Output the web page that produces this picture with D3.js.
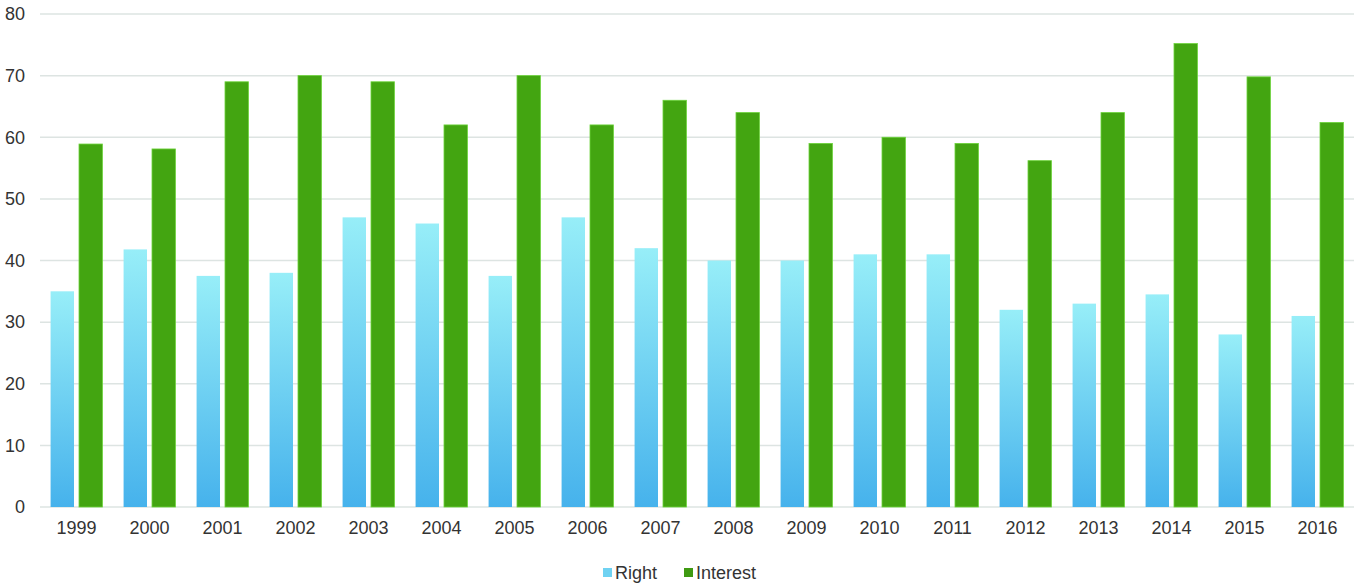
<!DOCTYPE html>
<html><head><meta charset="utf-8">
<script src="https://cdn.jsdelivr.net/npm/d3@7"></script>
<style>body{margin:0;background:#fff;} text{font-family:"Liberation Sans",Arial,sans-serif;}</style>
</head><body>
<svg id="c" width="1358" height="588"></svg>
<script>
const years = ["1999","2000","2001","2002","2003","2004","2005","2006","2007","2008","2009","2010","2011","2012","2013","2014","2015","2016"];
const rightValues = [35,41.8,37.5,38,47,46,37.5,47,42,40,40,41,41,32,33,34.5,28,31];
const interestValues = [58.9,58.1,69,70,69,62,70,62,66,64,59,60,59,56.2,64,75.2,69.8,62.4];
const seriesNames = ["Right","Interest"];
const yTicks = [0,10,20,30,40,50,60,70,80];

const svg = d3.select("#c");
const margin = {left:40, right:4, top:14, bottom:81};
const W = 1358, H = 588;
const x = d3.scaleBand().domain(years).range([margin.left, W - margin.right]).paddingInner(0.29).paddingOuter(0.145);
const x1 = d3.scaleBand().domain(seriesNames).range([0, x.bandwidth()]).paddingInner(0.176).paddingOuter(0);
const y = d3.scaleLinear().domain([0,80]).range([H - margin.bottom, margin.top]);

const defs = svg.append("defs");
const g1 = defs.append("linearGradient").attr("id","gr").attr("x1",0).attr("y1",0).attr("x2",0).attr("y2",1);
g1.append("stop").attr("offset","0%").attr("stop-color","#97eef8");
g1.append("stop").attr("offset","100%").attr("stop-color","#46b2ec");

// gridlines
svg.append("g").selectAll("line").data(yTicks).join("line")
  .attr("x1", margin.left).attr("x2", W - margin.right)
  .attr("y1", d => y(d)).attr("y2", d => y(d))
  .attr("stroke", "#dde4e2").attr("stroke-width", 1.5);

// y axis labels
const yAxis = d3.axisLeft(y).tickValues(yTicks).tickSize(0).tickPadding(0);
const ya = svg.append("g").attr("transform", `translate(${margin.left - 15},0)`).call(yAxis);
ya.select(".domain").remove();
ya.selectAll("text").attr("font-size", 18).attr("fill", "#333").attr("font-family", "Liberation Sans, Arial, sans-serif");

// x axis labels
const xAxis = d3.axisBottom(x).tickSize(0).tickPadding(14);
const xa = svg.append("g").attr("transform", `translate(0,${y(0)})`).call(xAxis);
xa.select(".domain").remove();
xa.selectAll("text").attr("font-size", 18).attr("fill", "#333").attr("font-family", "Liberation Sans, Arial, sans-serif");

// bars
const grp = svg.append("g").selectAll("g").data(years).join("g")
  .attr("transform", d => `translate(${x(d)},0)`);
grp.append("rect")
  .attr("x", x1("Right")).attr("width", x1.bandwidth())
  .attr("y", (d,i) => y(rightValues[i])).attr("height", (d,i) => y(0) - y(rightValues[i]))
  .attr("fill", "url(#gr)");
grp.append("rect")
  .attr("x", x1("Interest")).attr("width", x1.bandwidth())
  .attr("y", (d,i) => y(interestValues[i])).attr("height", (d,i) => y(0) - y(interestValues[i]))
  .attr("fill", "#43a511").attr("stroke", "#6cd33a").attr("stroke-width", 0.8);

// legend
const legend = svg.append("g").attr("transform", "translate(603,572)");
const items = [{n:"Right", c:"#6fd2f2", dx:0},{n:"Interest", c:"#3f9a12", dx:81}];
const li = legend.selectAll("g").data(items).join("g").attr("transform", d => `translate(${d.dx},0)`);
li.append("rect").attr("x",0).attr("y",-4).attr("width",9).attr("height",9).attr("fill", d => d.c);
li.append("text").attr("x",12).attr("y",7).attr("font-size",18).attr("fill","#333").text(d => d.n);
</script>
</body></html>
